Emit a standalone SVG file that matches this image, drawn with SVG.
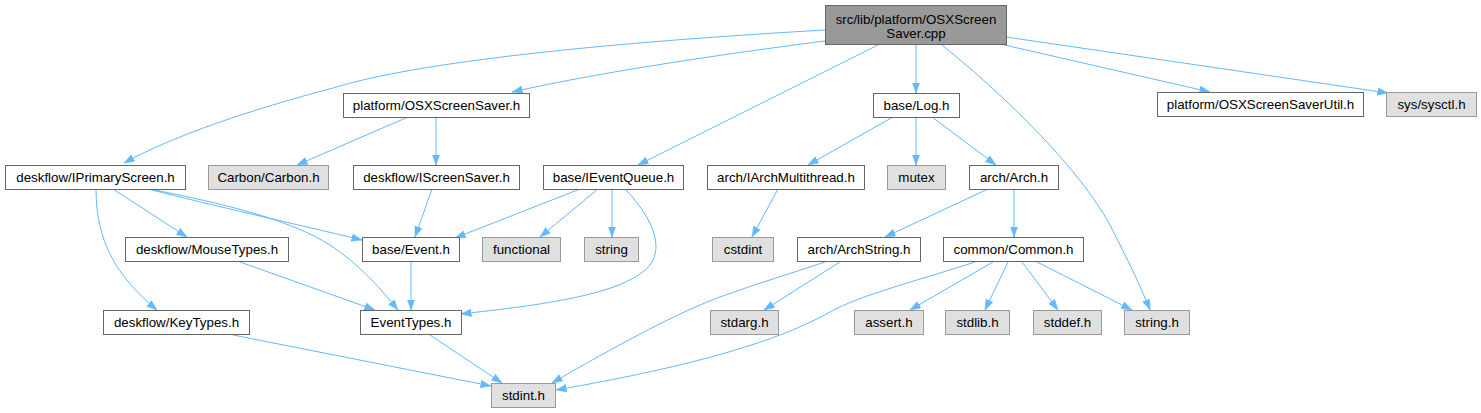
<svg xmlns="http://www.w3.org/2000/svg" width="1481" height="413" viewBox="0 0 1481 413">
<style>
.n rect{fill:#ffffff;stroke:#666666;stroke-width:1}
.g rect{fill:#e0e0e0;stroke:#999999;stroke-width:1}
.r rect{fill:#999999;stroke:#666666;stroke-width:1}
text{font-family:"Liberation Sans",Arial,sans-serif;font-size:13.33px;fill:#000000;text-anchor:middle}
#edges path{fill:none;stroke:#63b8ff;stroke-width:1;marker-end:url(#ah)}
</style>
<defs>
<marker id="ah" markerUnits="userSpaceOnUse" markerWidth="11" markerHeight="8" refX="10.5" refY="3.75" orient="auto">
<path d="M0,0 L10.5,3.75 L0,7.5 z" fill="#63b8ff" stroke="#63b8ff" stroke-width="0.5"/>
</marker>
</defs>
<rect width="1481" height="413" fill="#ffffff"/>
<g id="edges">
<path d="M825,30 C 650,40 430,58 333,88 C 250,110 175,135 124,163"/>
<path d="M825,41 C 740,52 610,70 512,92"/>
<path d="M878,45 L638,165"/>
<path d="M916,45 L916,93"/>
<path d="M942,45 C 1010,100 1080,170 1110,225 C 1128,260 1140,285 1150,310"/>
<path d="M1000,44 L1210,92"/>
<path d="M1006,37 L1388,93"/>
<path d="M408,117 L297,165"/>
<path d="M436,117 L436,165"/>
<path d="M432,189 L415,237"/>
<path d="M96,189 C 96,240 115,275 157,310"/>
<path d="M113,189 L187,237"/>
<path d="M148,189 C 210,205 300,225 362,240"/>
<path d="M150,189 C 230,205 290,220 330,245 C 360,265 380,288 398,310"/>
<path d="M580,189 L455,238"/>
<path d="M598,189 L540,237"/>
<path d="M612,189 L612,237"/>
<path d="M625,189 C 650,215 665,245 650,265 C 625,295 540,305 461,314"/>
<path d="M240,262 L375,310"/>
<path d="M411,262 L411,310"/>
<path d="M233,335 L491,386"/>
<path d="M430,335 L502,383"/>
<path d="M893,117 L808,165"/>
<path d="M916,117 L916,165"/>
<path d="M932,117 L996,165"/>
<path d="M778,189 L752,237"/>
<path d="M988,189 L885,237"/>
<path d="M1014,189 L1014,237"/>
<path d="M840,262 L764,310"/>
<path d="M825,262 C 780,277 730,292 700,305 C 660,322 600,355 552,383"/>
<path d="M975,262 C 920,280 860,295 830,312 C 780,340 700,365 556,390"/>
<path d="M993,262 L910,310"/>
<path d="M1008,262 L985,310"/>
<path d="M1022,262 L1058,310"/>
<path d="M1037,262 L1132,310"/>
</g>
<g id="root" class="r"><rect x="825.5" y="5.5" width="181" height="39"/><text x="916" y="23.5">src/lib/platform/OSXScreen</text><text x="916" y="37.5">Saver.cpp</text></g>
<g id="osxscreensaver_h" class="n"><rect x="343.5" y="93.5" width="186" height="24"/><text x="436.5" y="110">platform/OSXScreenSaver.h</text></g>
<g id="log_h" class="n"><rect x="873.5" y="93.5" width="86" height="24"/><text x="916.5" y="110">base/Log.h</text></g>
<g id="osxscreensaverutil_h" class="n"><rect x="1157.5" y="92.5" width="206" height="24"/><text x="1260.5" y="109">platform/OSXScreenSaverUtil.h</text></g>
<g id="sysctl_h" class="g"><rect x="1386.5" y="92.5" width="90" height="24"/><text x="1431.5" y="109">sys/sysctl.h</text></g>
<g id="iprimaryscreen_h" class="n"><rect x="5.5" y="165.5" width="180" height="24"/><text x="95.5" y="182">deskflow/IPrimaryScreen.h</text></g>
<g id="carbon_h" class="g"><rect x="208.5" y="165.5" width="120" height="24"/><text x="268.5" y="182">Carbon/Carbon.h</text></g>
<g id="iscreensaver_h" class="n"><rect x="353.5" y="165.5" width="166" height="24"/><text x="436.5" y="182">deskflow/IScreenSaver.h</text></g>
<g id="ieventqueue_h" class="n"><rect x="543.5" y="165.5" width="140" height="24"/><text x="613.5" y="182">base/IEventQueue.h</text></g>
<g id="iarchmultithread_h" class="n"><rect x="707.5" y="165.5" width="157" height="24"/><text x="786" y="182">arch/IArchMultithread.h</text></g>
<g id="mutex" class="g"><rect x="887.5" y="165.5" width="58" height="24"/><text x="916.5" y="182">mutex</text></g>
<g id="arch_h" class="n"><rect x="969.5" y="165.5" width="89" height="24"/><text x="1014" y="182">arch/Arch.h</text></g>
<g id="mousetypes_h" class="n"><rect x="125.5" y="237.5" width="163" height="24"/><text x="207" y="254">deskflow/MouseTypes.h</text></g>
<g id="event_h" class="n"><rect x="362.5" y="237.5" width="97" height="24"/><text x="411" y="254">base/Event.h</text></g>
<g id="functional" class="g"><rect x="482.5" y="237.5" width="78" height="24"/><text x="521.5" y="254">functional</text></g>
<g id="string" class="g"><rect x="584.5" y="237.5" width="54" height="24"/><text x="611.5" y="254">string</text></g>
<g id="cstdint" class="g"><rect x="712.5" y="237.5" width="61" height="24"/><text x="743" y="254">cstdint</text></g>
<g id="archstring_h" class="n"><rect x="797.5" y="237.5" width="123" height="24"/><text x="859" y="254">arch/ArchString.h</text></g>
<g id="common_h" class="n"><rect x="943.5" y="237.5" width="140" height="24"/><text x="1013.5" y="254">common/Common.h</text></g>
<g id="keytypes_h" class="n"><rect x="103.5" y="310.5" width="146" height="24"/><text x="176.5" y="327">deskflow/KeyTypes.h</text></g>
<g id="eventtypes_h" class="n"><rect x="360.5" y="310.5" width="101" height="24"/><text x="411" y="327">EventTypes.h</text></g>
<g id="stdarg_h" class="g"><rect x="710.5" y="310.5" width="68" height="24"/><text x="744.5" y="327">stdarg.h</text></g>
<g id="assert_h" class="g"><rect x="854.5" y="310.5" width="69" height="24"/><text x="889" y="327">assert.h</text></g>
<g id="stdlib_h" class="g"><rect x="945.5" y="310.5" width="64" height="24"/><text x="977.5" y="327">stdlib.h</text></g>
<g id="stddef_h" class="g"><rect x="1033.5" y="310.5" width="68" height="24"/><text x="1067.5" y="327">stddef.h</text></g>
<g id="string_h" class="g"><rect x="1124.5" y="310.5" width="65" height="24"/><text x="1157" y="327">string.h</text></g>
<g id="stdint_h" class="g"><rect x="491.5" y="383.5" width="64" height="24"/><text x="523.5" y="400">stdint.h</text></g>
</svg>
